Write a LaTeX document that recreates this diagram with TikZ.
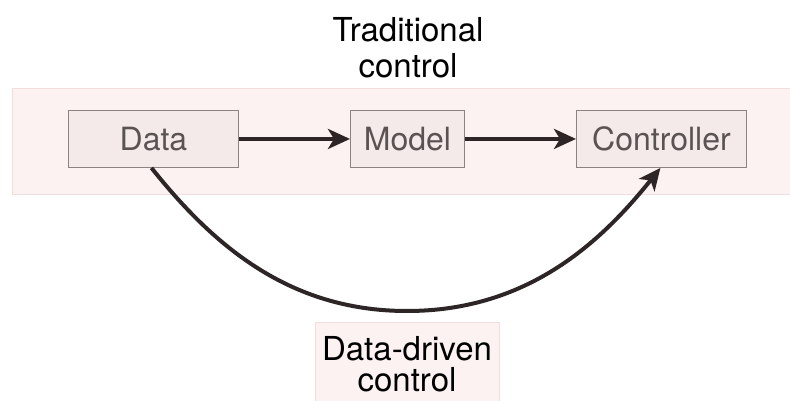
\documentclass[tikz,border=0pt]{standalone}
\usepackage{fontspec}
\setmainfont{TeX Gyre Heros}
\usetikzlibrary{arrows.meta}
\definecolor{bandfill}{HTML}{FDF2F2}
\definecolor{banddraw}{HTML}{F3DEDD}
\definecolor{boxfill}{HTML}{F5EAEA}
\definecolor{boxdraw}{HTML}{8C8282}
\definecolor{boxtext}{HTML}{5B5353}
\definecolor{arrowcol}{HTML}{2E2626}
\tikzset{
  blockbox/.style={draw=boxdraw, fill=boxfill, line width=0.9pt, text=boxtext,
    font=\fontsize{32}{36}\selectfont, inner sep=0pt, anchor=north west},
  flow/.style={draw=arrowcol, line width=4pt,
    -{Stealth[length=22pt, width=20pt, inset=6pt]}},
  caption/.style={font=\fontsize{33}{36}\selectfont, align=center, text=black}
}
\begin{document}
\begin{tikzpicture}[x=1pt, y=-1pt]
  \useasboundingbox (0,0) rectangle (790,401);
  \begin{scope}
    \clip (0,0) rectangle (790,401);
    % shaded band behind the model-based chain
    \draw[banddraw, fill=bandfill, line width=1pt] (12,89) rectangle (800,194);
    % shaded label box at the bottom
    \draw[banddraw, fill=bandfill, line width=1pt] (315,322) rectangle (499,410);
  \end{scope}

  \node[blockbox, minimum width=170pt, minimum height=57pt] (data) at (68,110) {Data};
  \node[blockbox, minimum width=114pt, minimum height=57pt] (model) at (350,110) {Model};
  \node[blockbox, minimum width=170pt, minimum height=57pt] (ctrl) at (576,110) {Controller};

  \draw[flow] (data.east) -- (model.west);
  \draw[flow] (model.east) -- (ctrl.west);

  % lowest point of the data-driven bypass
  \coordinate (low) at (407,311);
  \draw[flow] ([xshift=-2pt]data.south)
      .. controls +(60,75) and +(-120,0) .. (low)
      .. controls +(120,0) and +(-60,75) .. ([xshift=-1pt]ctrl.south);

  \node[caption] (trad) at (408,48) {Traditional\\control};
  \node[caption, font=\fontsize{33}{31}\selectfont] (dd) at (407,364) {Data-driven\\control};
\end{tikzpicture}
\end{document}
